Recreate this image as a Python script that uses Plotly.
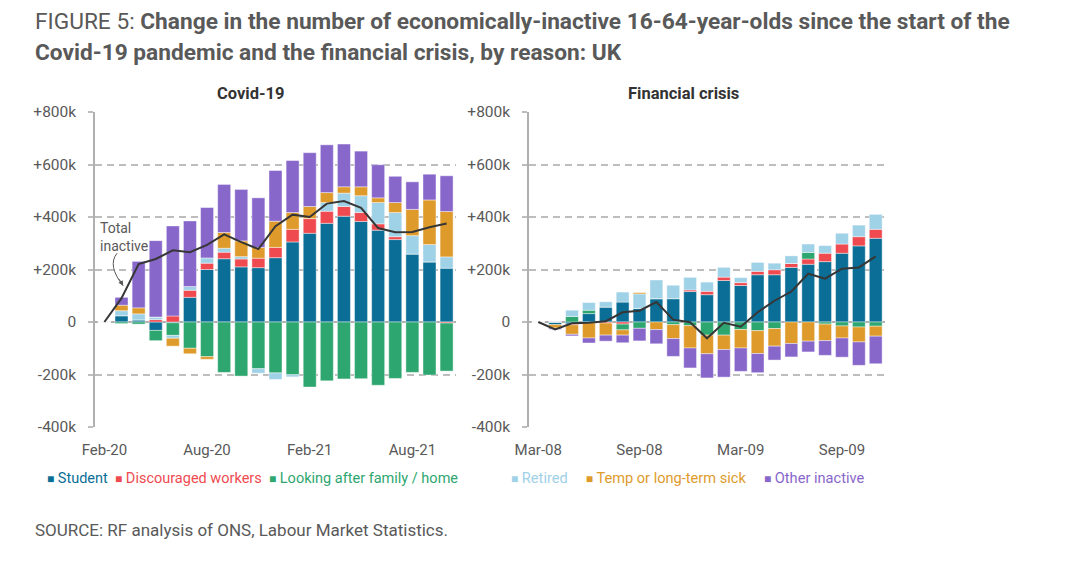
import plotly.graph_objects as go
from plotly.subplots import make_subplots

# ---------------- DATA (thousands) ----------------
months_covid = ["Feb-20", "Mar-20", "Apr-20", "May-20", "Jun-20", "Jul-20", "Aug-20",
                "Sep-20", "Oct-20", "Nov-20", "Dec-20", "Jan-21", "Feb-21", "Mar-21",
                "Apr-21", "May-21", "Jun-21", "Jul-21", "Aug-21", "Sep-21", "Oct-21"]
covid_student = [0, 24, 8, -32, -3, 94, 200, 241, 210, 207, 245, 305, 338, 376, 403, 383, 350, 314, 259, 229, 205]
covid_discouraged = [0, 0, 0, 9, 23, 27, 24, 25, 30, 36, 39, 48, 56, 46, 37, 34, 24, 11, 0, 0, -4]
covid_family = [0, -6, -8, -39, -48, -100, -132, -192, -206, -178, -194, -201, -248, -224, -217, -216, -241, -215, -192, -202, -183]
covid_retired = [0, 19, 23, 10, -11, 14, 20, 15, 9, -17, -25, -8, 0, 33, 51, 64, 81, 92, 70, 66, 43]
covid_sick = [0, 21, 23, 0, -30, -21, -10, 60, 60, 41, 100, 64, 46, 38, 24, 34, 18, 38, 100, 170, 173]
covid_other = [0, 30, 177, 291, 343, 250, 192, 183, 196, 189, 193, 198, 205, 182, 163, 136, 126, 100, 105, 98, 136]
covid_total = [0, 91, 221, 240, 273, 266, 294, 334, 304, 278, 365, 409, 400, 451, 461, 435, 358, 342, 343, 361, 375]

months_fc = ["Mar-08", "Apr-08", "May-08", "Jun-08", "Jul-08", "Aug-08", "Sep-08",
             "Oct-08", "Nov-08", "Dec-08", "Jan-09", "Feb-09", "Mar-09", "Apr-09",
             "May-09", "Jun-09", "Jul-09", "Aug-09", "Sep-09", "Oct-09", "Nov-09"]
fc_student = [0, -10, -8, 32, 57, 76, 52, 89, 89, 116, 104, 158, 139, 180, 180, 208, 220, 230, 262, 290, 319]
fc_discouraged = [0, 0, -3, -3, -4, -8, 0, 0, 0, 6, 13, 13, 11, 13, 19, 15, 20, 32, 35, 35, 34]
fc_family = [0, 0, 21, 13, 0, -22, -24, 0, -10, -14, -50, -50, -29, -33, -25, 0, 25, -8, -15, -19, -16]
fc_retired = [0, 0, 24, 29, 20, 38, 55, 71, 51, 48, 35, 37, 19, 34, 25, 29, 32, 29, 41, 44, 57]
fc_sick = [0, -13, -36, -58, -46, -20, 5, -29, -53, -85, -71, -55, -70, -87, -67, -82, -73, -63, -46, -57, -38]
fc_other = [0, -5, -6, -19, -23, -29, -48, -54, -68, -76, -92, -105, -89, -73, -53, -51, -41, -56, -73, -89, -105]
fc_total = [0, -28, -5, -3, 3, 37, 43, 76, 9, -1, -62, -3, -18, 37, 81, 116, 184, 165, 203, 208, 250]

series_names = ["Student", "Discouraged workers", "Looking after family / home",
                "Retired", "Temp or long-term sick", "Other inactive"]
series_colors = ["#0a6e96", "#ef4a50", "#2ea66f", "#9fd1e7", "#de9b2b", "#8867cb"]

covid_ticks = ["Feb-20", "Aug-20", "Feb-21", "Aug-21"]
fc_ticks = ["Mar-08", "Sep-08", "Mar-09", "Sep-09"]
y_tickvals = [-400, -200, 0, 200, 400, 600, 800]
y_ticktext = ["-400k", "-200k", "0", "+200k", "+400k", "+600k", "+800k"]

# ---------------- FIGURE ----------------
FONT = "Roboto"
GREY = "#595959"
OFF = 8  # page body margin

fig = make_subplots(rows=1, cols=2, horizontal_spacing=0.09)

covid_series = [covid_student, covid_discouraged, covid_family, covid_retired, covid_sick, covid_other]
fc_series = [fc_student, fc_discouraged, fc_family, fc_retired, fc_sick, fc_other]

for col, months, series in [(1, months_covid, covid_series), (2, months_fc, fc_series)]:
    for name, color, vals in zip(series_names, series_colors, series):
        fig.add_trace(go.Bar(x=months, y=vals, name=name, marker_color=color,
                             marker_line=dict(color="rgba(255,255,255,0.7)", width=0.6),
                             showlegend=False), row=1, col=col)

fig.add_trace(go.Scatter(x=months_covid, y=covid_total, mode="lines", name="Total inactive",
                         line=dict(color="#363636", width=2), showlegend=False), row=1, col=1)
fig.add_trace(go.Scatter(x=months_fc, y=fc_total, mode="lines", name="Total inactive",
                         line=dict(color="#363636", width=2), showlegend=False), row=1, col=2)

# reference pixel geometry
P_LEFT, P_RIGHT, P_TOP, P_BOT = 95, 885, 112, 427
L = P_LEFT - OFF
T = P_TOP - OFF
R = 1080 - (P_RIGHT - OFF)
B = 565 - (P_BOT - OFF)
W = P_RIGHT - P_LEFT
H = P_BOT - P_TOP
def X(px):
    return (px - P_LEFT) / W
def Y(py):
    return (P_BOT - py) / H

fig.update_layout(
    width=1080, height=565,
    margin=dict(l=L, r=R, t=T, b=B),
    barmode="relative", bargap=0.24,
    plot_bgcolor="white", paper_bgcolor="white",
    font=dict(family=FONT, color=GREY),
    xaxis=dict(domain=[0, X(456)]),
    xaxis2=dict(domain=[X(529), 1]),
)

for xa, ticks in [("xaxis", covid_ticks), ("xaxis2", fc_ticks)]:
    fig.layout[xa].update(type="category", range=[-0.55, 20.55], tickmode="array",
                          tickvals=ticks, ticktext=ticks, showgrid=False, zeroline=False,
                          showline=False, ticks="", tickfont=dict(size=15, color=GREY, family=FONT),
                          ticklabelstandoff=12)
for ya in ["yaxis", "yaxis2"]:
    fig.layout[ya].update(range=[-400, 800], tickmode="array", tickvals=y_tickvals,
                          ticktext=y_ticktext, showgrid=True, gridcolor="#bdbdbd", gridwidth=1.5,
                          griddash="7px,5px", zeroline=True, zerolinecolor="#b0b0b0",
                          zerolinewidth=1.5, showline=True, linecolor="#b0b0b0", linewidth=1.5,
                          ticks="outside", ticklen=5, tickcolor="#bdbdbd", tickwidth=1.5,
                          tickfont=dict(size=15.5, color=GREY, family=FONT), ticklabelstandoff=9)

ann = []
# Title
ann.append(dict(xref="paper", yref="paper", x=X(33), y=Y(22), xanchor="left", yanchor="middle",
                text="FIGURE 5: <b>Change in the number of economically-inactive 16-64-year-olds since the start of the</b>",
                showarrow=False, font=dict(size=22.7, color=GREY, family=FONT)))
ann.append(dict(xref="paper", yref="paper", x=X(33), y=Y(52), xanchor="left", yanchor="middle",
                text="<b>Covid-19 pandemic and the financial crisis, by reason: UK</b>",
                showarrow=False, font=dict(size=22.7, color=GREY, family=FONT)))
# Subplot titles
ann.append(dict(xref="paper", yref="paper", x=X(250), y=Y(93), xanchor="center", yanchor="middle",
                text="<b>Covid-19</b>", showarrow=False, font=dict(size=16.5, color="#333333", family=FONT)))
ann.append(dict(xref="paper", yref="paper", x=X(683), y=Y(93), xanchor="center", yanchor="middle",
                text="<b>Financial crisis</b>", showarrow=False, font=dict(size=16.5, color="#333333", family=FONT)))
# Legend (two rows of coloured text)
def leg(names, colors, sep):
    parts = []
    for n, c in zip(names, colors):
        parts.append(f"<span style='color:{c}'><span style='font-size:12px'>■</span> {n}</span>")
    return sep.join(parts)
ann.append(dict(xref="paper", yref="paper", x=X(45), y=Y(478), xanchor="left", yanchor="middle",
                text=leg(series_names[:3], series_colors[:3], "  "), showarrow=False,
                font=dict(size=14.5, family=FONT)))
ann.append(dict(xref="paper", yref="paper", x=X(509), y=Y(478), xanchor="left", yanchor="middle",
                text=leg(series_names[3:], series_colors[3:], "     "), showarrow=False,
                font=dict(size=14.6, family=FONT)))
# Source
ann.append(dict(xref="paper", yref="paper", x=X(33), y=Y(530), xanchor="left", yanchor="middle",
                text="SOURCE: RF analysis of ONS, Labour Market Statistics.", showarrow=False,
                font=dict(size=17, color=GREY, family=FONT)))
# Total inactive label
ann.append(dict(xref="x", yref="y", x=-0.4, y=395, xanchor="left", yanchor="top", align="left",
                text="Total<br>inactive", showarrow=False, font=dict(size=14, color=GREY, family=FONT)))
# arrowhead at end of curved pointer
ann.append(dict(xref="x", yref="y", x=1.1, y=138, ax=-5, ay=-8, text="", showarrow=True,
                arrowhead=2, arrowsize=1, arrowwidth=1, arrowcolor="#555555"))
fig.update_layout(annotations=ann)

# curved pointer (in data coordinates of the left panel)
fig.add_shape(type="path", xref="x", yref="y",
              path="M 0.74,262 Q 0.15,215 1.1,138", line=dict(color="#555555", width=1))

fig.write_html("out.html")
